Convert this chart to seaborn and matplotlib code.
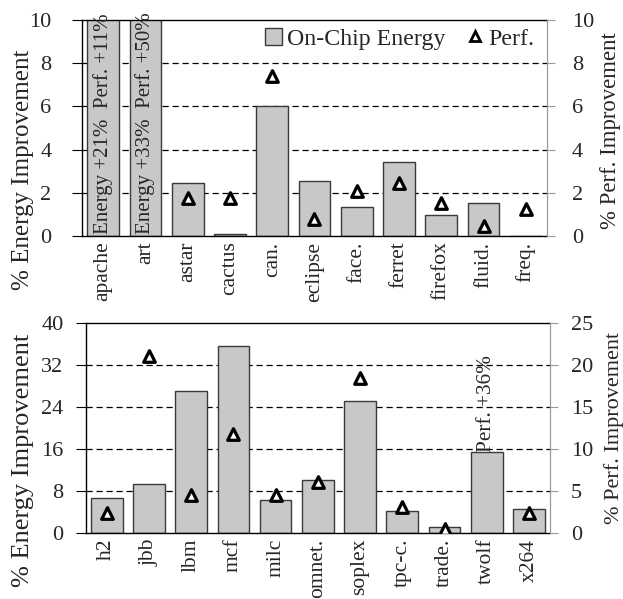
import matplotlib
matplotlib.use("Agg")
import matplotlib.pyplot as plt
import seaborn as sns
import pandas as pd
from matplotlib.patches import Patch
from matplotlib.lines import Line2D

sns.set_style("white")
plt.rcParams['font.family'] = ['Liberation Serif', 'DejaVu Serif']

# ---- data ----
top_cats = ["apache", "art", "astar", "cactus", "can.", "eclipse", "face.", "ferret", "firefox", "fluid.", "freq."]
top_energy = [21, 33, 2.47, 0.08, 6.0, 2.55, 1.34, 3.43, 0.97, 1.54, 0.0]
top_perf = [11, 50, 1.75, 1.75, 7.4, 0.8, 2.08, 2.45, 1.53, 0.46, 1.25]

bot_cats = ["h2", "jbb", "lbm", "mcf", "milc", "omnet.", "soplex", "tpc-c.", "trade.", "twolf", "x264"]
bot_energy = [6.67, 9.3, 27.0, 35.7, 6.35, 10.15, 25.1, 4.3, 1.14, 15.4, 4.57]
bot_perf = [2.38, 21.1, 4.56, 11.8, 4.56, 6.1, 18.45, 3.17, 0.48, 36, 2.38]

top_yticks = [0, 2, 4, 6, 8, 10]
bot_yticks_l = [0, 8, 16, 24, 32, 40]
bot_yticks_r = [0, 5, 10, 15, 20, 25]

BAR = "#c8c8c8"
EDGE = "#3a3a3a"
XFS = 15.5
TFS = 16

fig = plt.figure(figsize=(6.23, 5.99), dpi=100)
ax1 = fig.add_axes([0.1316, 0.606, 0.7464, 0.3606])
ax2 = fig.add_axes([0.1375, 0.1097, 0.7455, 0.3511])


def draw(ax, cats, energy, perf, ylim_l, ylim_r, yt_l, yt_r, padl, padr,
         lab_l, lab_r, lfs_l, lfs_r):
    df = pd.DataFrame({"cat": cats, "energy": energy, "perf": perf})
    sns.barplot(data=df, x="cat", y="energy", order=cats, color=BAR, width=0.75,
                edgecolor=EDGE, linewidth=1.0, saturation=1, ax=ax, zorder=2)
    ax.set_ylim(*ylim_l)
    ax.set_xlim(-0.5, len(cats) - 0.5)
    ax.set_yticks(yt_l)
    for y in yt_l[1:-1]:
        ax.axhline(y, color="black", linestyle=(0, (5, 3)), linewidth=0.9, zorder=1)
    ax.set_xlabel("")
    ax.set_ylabel("% Energy Improvement", fontsize=lfs_l)
    ax.yaxis.set_label_coords(*lab_l)
    ax.set_xticks(range(len(cats)))
    ax.set_xticklabels(cats, rotation=90, fontsize=XFS)
    ax.set_xticks([i + 0.5 for i in range(-1, len(cats))], minor=True)
    ax.tick_params(axis="x", which="major", length=0, pad=4)
    ax.tick_params(axis="x", which="minor", length=5, direction="out", color="black", width=1)
    ax.tick_params(axis="y", labelsize=TFS, length=7, direction="out", color="black", pad=padl)
    for s in ["top", "left", "bottom"]:
        ax.spines[s].set_color("black")
        ax.spines[s].set_linewidth(1.0)
    ax.spines["right"].set_color("#999999")

    axr = ax.twinx()
    sns.scatterplot(data=df, x="cat", y="perf", marker="^", s=70, facecolor="white",
                    edgecolor="black", linewidth=2.3, ax=axr, zorder=3, legend=False)
    axr.set_ylim(*ylim_r)
    axr.set_yticks(yt_r)
    axr.set_ylabel("% Perf. Improvement", fontsize=lfs_r)
    axr.yaxis.set_label_coords(*lab_r)
    axr.tick_params(axis="y", labelsize=TFS, length=6, direction="out", color="#999999", pad=padr)
    for s in axr.spines.values():
        s.set_visible(False)
    axr.spines["right"].set_visible(True)
    axr.spines["right"].set_color("#999999")
    axr.set_xlabel("")
    return axr


r1 = draw(ax1, top_cats, top_energy, top_perf, (0, 10), (0, 10), top_yticks, top_yticks,
          15, 12, (-0.103, 0.306), (1.114, 0.49), 18, 16.4)
r2 = draw(ax2, bot_cats, bot_energy, bot_perf, (0, 40), (0, 25), bot_yticks_l, bot_yticks_r,
          9, 9, (-0.111, 0.349), (1.116, 0.5), 19, 16)

# annotations for clipped values
for i in (0, 1):
    ax1.text(i, 0.1, f"Energy +{top_energy[i]}%  Perf. +{top_perf[i]}%", rotation=90,
             ha="center", va="bottom", fontsize=15, clip_on=False, zorder=5)
tw = bot_cats.index("twolf")
ax2.text(tw, bot_energy[tw], f"Perf. +{bot_perf[tw]}%", rotation=90, ha="center", va="bottom",
         fontsize=15.3, zorder=5)

handles = [Patch(facecolor=BAR, edgecolor=EDGE, label="On-Chip Energy"),
           Line2D([], [], marker="^", linestyle="none", markerfacecolor="white",
                  markeredgecolor="black", markeredgewidth=2, markersize=7, label="Perf.")]
ax1.legend(handles=handles, loc="upper right", ncol=2, frameon=False, fontsize=17.2,
           handlelength=0.7, handletextpad=0.2, columnspacing=0.9,
           bbox_to_anchor=(1.004, 1.03), borderaxespad=0.2)

fig.savefig("out.png", dpi=100)
